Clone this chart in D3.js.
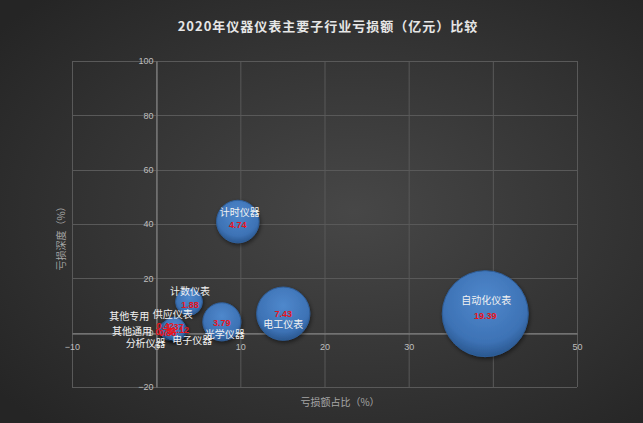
<!DOCTYPE html>
<html>
<head>
<meta charset="utf-8">
<script src="https://cdn.jsdelivr.net/npm/d3@7"></script>
<style>
  body { margin: 0; background: #2b2b2b; }
  svg { display: block; font-family: "Noto Sans CJK SC", "Noto Sans", sans-serif; }
</style>
</head>
<body>
<div id="chart"></div>
<script>
// Data
const names  = ["其他专用", "其他通用", "分析仪器", "电子仪器", "供应仪表", "计数仪表", "光学仪器", "计时仪器", "电工仪表", "自动化仪表"];
const shares = [1.8, 1.4, 1.6, 2.4, 2.1, 3.9, 7.8, 9.7, 15.1, 39.1];   // 亏损额占比（%）
const depths = [2.0, 1.2, 0.6, 0.8, 1.5, 11.4, 4.0, 40.9, 7.0, 7.0];   // 亏损深度（%）
const losses = [0.42, 0.74, 0.86, 1.12, 1.37, 1.88, 3.79, 4.74, 7.43, 19.39]; // 亏损额（亿元）
const xTicks = [-10, 0, 10, 20, 30, 40, 50];
const yTicks = [-20, 0, 20, 40, 60, 80, 100];

// label placement (px offsets from bubble centre)
const nameOffset = {
  "其他专用": [-22, -12, "end"], "其他通用": [-16, 1, "end"], "分析仪器": [-4, 11, "end"],
  "电子仪器": [-4, 9, "start"], "供应仪表": [-1, -15, "middle"], "计数仪表": [1, -11, "middle"],
  "光学仪器": [3, 12, "middle"], "计时仪器": [2, -10, "middle"], "电工仪表": [0, 10, "middle"],
  "自动化仪表": [1, -14, "middle"]
};
const valueOffset = {
  "其他专用": [-6, -1], "其他通用": [-4, 3], "分析仪器": [-2, 2], "电子仪器": [4, 0], "供应仪表": [1, -2],
  "计数仪表": [1, 3], "光学仪器": [0, 1], "计时仪器": [0, 3], "电工仪表": [0, 0], "自动化仪表": [0, 2]
};

const W = 643, H = 423;
const plot = {left: 72, right: 577, top: 61, bottom: 387};

const data = names.map((n, i) => ({name: n, x: shares[i], y: depths[i], v: losses[i]}));

const svg = d3.select("#chart").append("svg").attr("width", W).attr("height", H);
const defs = svg.append("defs");

const bg = defs.append("radialGradient").attr("id", "bg")
  .attr("cx", "55%").attr("cy", "50%").attr("r", "70%");
bg.append("stop").attr("offset", "0%").attr("stop-color", "#474747");
bg.append("stop").attr("offset", "100%").attr("stop-color", "#252525");

const bub = defs.append("radialGradient").attr("id", "bub")
  .attr("cx", "50%").attr("cy", "35%").attr("r", "65%");
bub.append("stop").attr("offset", "0%").attr("stop-color", "#4f88cc");
bub.append("stop").attr("offset", "75%").attr("stop-color", "#3d72b5");
bub.append("stop").attr("offset", "100%").attr("stop-color", "#2a5890");

const shadow = defs.append("filter").attr("id", "sh").attr("x", "-30%").attr("y", "-30%").attr("width", "160%").attr("height", "160%");
shadow.append("feDropShadow").attr("dx", 1).attr("dy", 2).attr("stdDeviation", 2)
  .attr("flood-color", "#000").attr("flood-opacity", 0.5);

svg.append("rect").attr("width", W).attr("height", H).attr("fill", "url(#bg)");

const x = d3.scaleLinear().domain([-10, 50]).range([plot.left, plot.right]);
const y = d3.scaleLinear().domain([-20, 100]).range([plot.bottom, plot.top]);
const maxR = 43;
const r = d3.scaleSqrt().domain([0, d3.max(losses)]).range([0, maxR]);

// Title
svg.append("text")
  .attr("x", 328).attr("y", 25)
  .attr("text-anchor", "middle").attr("dominant-baseline", "central")
  .attr("fill", "#e6e6e6").attr("font-size", 13).attr("font-weight", "bold")
  .attr("letter-spacing", 1)
  .text("2020年仪器仪表主要子行业亏损额（亿元）比较");

// Grid
const grid = svg.append("g").attr("stroke", "#595959").attr("stroke-width", 1);
grid.selectAll("line.v").data(xTicks).enter().append("line")
  .attr("x1", d => x(d) + 0.5).attr("x2", d => x(d) + 0.5)
  .attr("y1", plot.top).attr("y2", plot.bottom);
grid.selectAll("line.h").data(yTicks).enter().append("line")
  .attr("y1", d => Math.round(y(d)) + 0.5).attr("y2", d => Math.round(y(d)) + 0.5)
  .attr("x1", plot.left).attr("x2", plot.right);

// Axes crossing at zero
svg.append("g")
  .attr("transform", `translate(0, ${Math.round(y(0)) + 0.5})`)
  .call(d3.axisBottom(x).tickValues(xTicks).tickSize(0).tickPadding(10))
  .call(g => g.select(".domain").attr("stroke", "#8c8c8c"))
  .call(g => g.selectAll("text").attr("fill", "#bfbfbf").attr("font-size", 9)
    .attr("font-family", "Liberation Sans, Arial, sans-serif"));

svg.append("g")
  .attr("transform", `translate(${Math.round(x(0)) + 0.5}, 0)`)
  .call(d3.axisLeft(y).tickValues(yTicks).tickSize(0).tickPadding(3))
  .call(g => g.select(".domain").attr("stroke", "#8c8c8c"))
  .call(g => g.selectAll("text").attr("fill", "#bfbfbf").attr("font-size", 9)
    .attr("font-family", "Liberation Sans, Arial, sans-serif"));

// Axis titles
svg.append("text")
  .attr("x", 340).attr("y", 401)
  .attr("text-anchor", "middle").attr("dominant-baseline", "central")
  .attr("fill", "#a6a6a6").attr("font-size", 10)
  .text("亏损额占比（%）");

svg.append("text")
  .attr("transform", "translate(60, 236) rotate(-90)")
  .attr("text-anchor", "middle").attr("dominant-baseline", "central")
  .attr("fill", "#a6a6a6").attr("font-size", 10)
  .text("亏损深度（%）");

// Bubbles (smallest drawn first so the cluster looks like Excel's)
const order = data.slice().sort((a, b) => a.v - b.v);
svg.append("g").selectAll("circle").data(order).enter().append("circle")
  .attr("cx", d => x(d.x)).attr("cy", d => y(d.y)).attr("r", d => r(d.v))
  .attr("fill", "url(#bub)").attr("stroke", "#2f5e99").attr("stroke-width", 1)
  .attr("filter", "url(#sh)");

// Value labels
svg.append("g").selectAll("text").data(data).enter().append("text")
  .attr("x", d => x(d.x) + valueOffset[d.name][0])
  .attr("y", d => y(d.y) + valueOffset[d.name][1])
  .attr("text-anchor", "middle").attr("dominant-baseline", "central")
  .attr("fill", "#e8141c").attr("font-size", 9).attr("font-weight", "bold")
  .attr("font-family", "Liberation Sans, Arial, sans-serif")
  .text(d => d.v.toFixed(2));

// Name labels
svg.append("g").selectAll("text").data(data).enter().append("text")
  .attr("x", d => x(d.x) + nameOffset[d.name][0])
  .attr("y", d => y(d.y) + nameOffset[d.name][1])
  .attr("text-anchor", d => nameOffset[d.name][2]).attr("dominant-baseline", "central")
  .attr("fill", "#f2f2f2").attr("font-size", 10)
  .text(d => d.name);
</script>
</body>
</html>
